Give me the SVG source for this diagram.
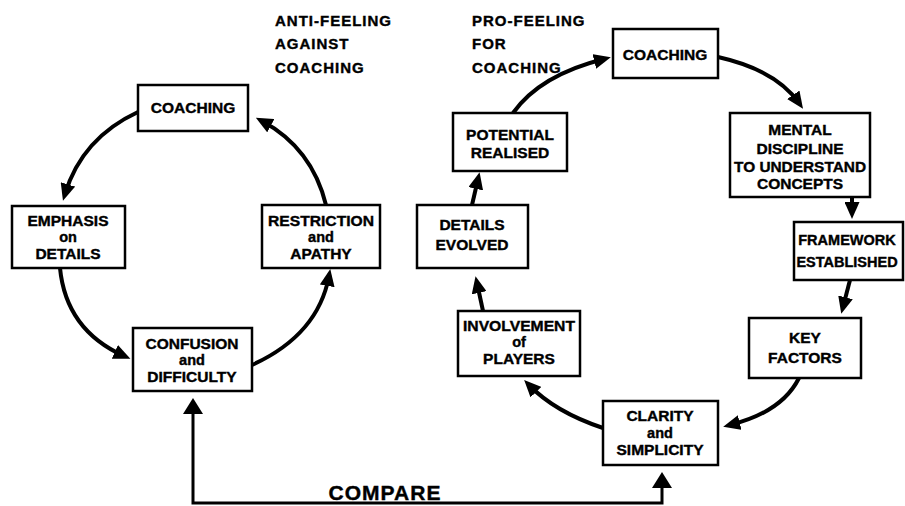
<svg xmlns="http://www.w3.org/2000/svg" width="905" height="506" viewBox="0 0 905 506">
<defs>
<style>
.box{fill:#fff;stroke:#000;stroke-width:2.5}
.t{font-family:"Liberation Sans",Arial,sans-serif;font-weight:bold;font-size:15.5px;text-anchor:middle;fill:#000;stroke:#000;stroke-width:0.4}
.s{font-size:14.5px}
.f{font-size:14.5px}
.h{font-family:"Liberation Sans",Arial,sans-serif;font-weight:bold;font-size:15px;letter-spacing:1px;fill:#000;stroke:#000;stroke-width:0.4}
.c{fill:none;stroke:#000;stroke-width:4}
.cmp{fill:none;stroke:#000;stroke-width:3}
</style>
<marker id="ah" markerUnits="userSpaceOnUse" markerWidth="17" markerHeight="15" refX="10" refY="7.5" orient="auto">
<path d="M0,0 L17,7.5 L0,15 z" fill="#000"/>
</marker>
<marker id="ah2" markerUnits="userSpaceOnUse" markerWidth="16" markerHeight="20" refX="8" refY="10" orient="auto-start-reverse">
<path d="M0,0 L16,10 L0,20 z" fill="#000"/>
</marker>
</defs>
<rect width="905" height="506" fill="#fff"/>

<g id="headings">
<text class="h" x="275" y="26">ANTI-FEELING</text>
<text class="h" x="275" y="49">AGAINST</text>
<text class="h" x="275" y="73">COACHING</text>
<text class="h" x="472" y="26">PRO-FEELING</text>
<text class="h" x="472" y="49">FOR</text>
<text class="h" x="472" y="73">COACHING</text>
</g>

<g id="connectors">
<path class="c" d="M138,112 Q82,138 65,194" marker-end="url(#ah)"/>
<path class="c" d="M60,268 Q66,330 124,356" marker-end="url(#ah)"/>
<path class="c" d="M252,365 Q318,335 329,276" marker-end="url(#ah)"/>
<path class="c" d="M326,205 Q312,148 262,121" marker-end="url(#ah)"/>
<path class="c" d="M513,113 Q540,75 604,59" marker-end="url(#ah)"/>
<path class="c" d="M718,57 Q776,70 799,103" marker-end="url(#ah)"/>
<path class="c" d="M852,197 L852,212" marker-end="url(#ah)"/>
<path class="c" d="M850,280 L843,307" marker-end="url(#ah)"/>
<path class="c" d="M799,378 Q782,412 730,425" marker-end="url(#ah)"/>
<path class="c" d="M603,428 Q555,412 529,385" marker-end="url(#ah)"/>
<path class="c" d="M483,311 L477,283" marker-end="url(#ah)"/>
<path class="c" d="M472,205 L478,179" marker-end="url(#ah)"/>
<path class="cmp" d="M193,406 V503 H662 V480" marker-start="url(#ah2)" marker-end="url(#ah2)"/>
<text class="h" x="385" y="500" style="font-size:21px;text-anchor:middle;letter-spacing:1px">COMPARE</text>
</g>

<g id="coaching-left">
<rect class="box" x="138" y="85" width="110" height="46"/>
<text class="t" x="193" y="113">COACHING</text>
</g>
<g id="emphasis">
<rect class="box" x="12" y="206" width="113" height="62"/>
<text class="t" x="68" y="226">EMPHASIS</text>
<text class="t s" x="68" y="242">on</text>
<text class="t" x="68" y="259">DETAILS</text>
</g>
<g id="restriction">
<rect class="box" x="262" y="205" width="118" height="63"/>
<text class="t" x="321" y="226" textLength="106" lengthAdjust="spacingAndGlyphs">RESTRICTION</text>
<text class="t s" x="321" y="242">and</text>
<text class="t" x="321" y="259">APATHY</text>
</g>
<g id="confusion">
<rect class="box" x="133" y="328" width="119" height="63"/>
<text class="t" x="192" y="349">CONFUSION</text>
<text class="t s" x="192" y="365">and</text>
<text class="t" x="192" y="382">DIFFICULTY</text>
</g>

<g id="coaching-right">
<rect class="box" x="613" y="29" width="105" height="49"/>
<text class="t" x="665" y="60">COACHING</text>
</g>
<g id="mental">
<rect class="box" x="730" y="113" width="140" height="84"/>
<text class="t" x="800" y="135">MENTAL</text>
<text class="t" x="800" y="154">DISCIPLINE</text>
<text class="t" x="800" y="172" textLength="132" lengthAdjust="spacingAndGlyphs">TO UNDERSTAND</text>
<text class="t" x="800" y="189">CONCEPTS</text>
</g>
<g id="framework">
<rect class="box" x="794" y="222" width="109" height="58"/>
<text class="t f" x="847" y="245">FRAMEWORK</text>
<text class="t f" x="847" y="267">ESTABLISHED</text>
</g>
<g id="key-factors">
<rect class="box" x="749" y="318" width="112" height="60"/>
<text class="t" x="805" y="343">KEY</text>
<text class="t" x="805" y="363">FACTORS</text>
</g>
<g id="clarity">
<rect class="box" x="603" y="401" width="115" height="64"/>
<text class="t" x="660" y="421">CLARITY</text>
<text class="t s" x="660" y="438">and</text>
<text class="t" x="660" y="455">SIMPLICITY</text>
</g>
<g id="involvement">
<rect class="box" x="458" y="311" width="122" height="65"/>
<text class="t" x="519" y="331" textLength="112" lengthAdjust="spacingAndGlyphs">INVOLVEMENT</text>
<text class="t s" x="519" y="347">of</text>
<text class="t" x="519" y="364">PLAYERS</text>
</g>
<g id="details-evolved">
<rect class="box" x="417" y="205" width="111" height="63"/>
<text class="t" x="472" y="230">DETAILS</text>
<text class="t" x="472" y="250">EVOLVED</text>
</g>
<g id="potential">
<rect class="box" x="453" y="113" width="114" height="58"/>
<text class="t" x="510" y="140">POTENTIAL</text>
<text class="t" x="510" y="158">REALISED</text>
</g>
</svg>
